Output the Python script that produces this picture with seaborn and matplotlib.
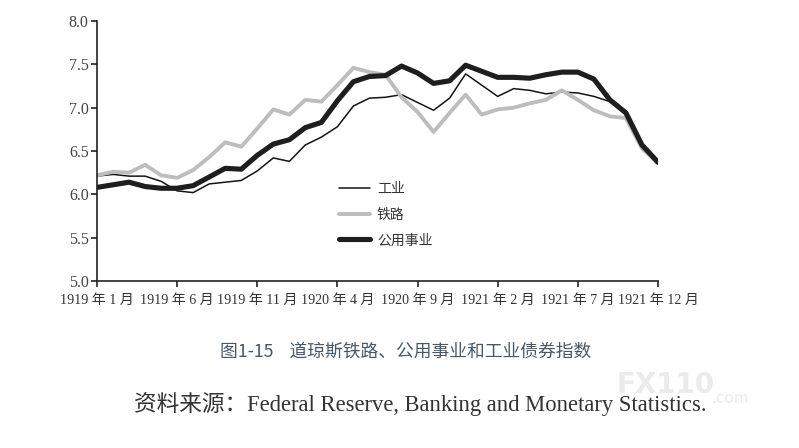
import numpy as np
import pandas as pd
import seaborn as sns
from matplotlib import pyplot as plt

# monthly index values, 1919-01 .. 1921-12
months = pd.period_range('1919-01', '1921-12', freq='M')
industrial = [6.21, 6.23, 6.21, 6.21, 6.15, 6.04, 6.02, 6.12, 6.14, 6.16,
              6.27, 6.42, 6.38, 6.57, 6.66, 6.78, 7.02, 7.11, 7.12, 7.15,
              7.06, 6.97, 7.11, 7.39, 7.26, 7.13, 7.22, 7.20, 7.16, 7.18,
              7.17, 7.13, 7.07, 6.94, 6.55, 6.37]
railroad = [6.22, 6.26, 6.25, 6.34, 6.22, 6.19, 6.28, 6.43, 6.60, 6.55,
            6.76, 6.98, 6.92, 7.09, 7.07, 7.26, 7.46, 7.41, 7.38, 7.12,
            6.95, 6.72, 6.94, 7.15, 6.92, 6.98, 7.00, 7.05, 7.09, 7.20,
            7.09, 6.97, 6.90, 6.88, 6.53, 6.36]
utilities = [6.08, 6.11, 6.14, 6.09, 6.07, 6.07, 6.10, 6.20, 6.30, 6.29,
             6.45, 6.58, 6.63, 6.77, 6.83, 7.08, 7.30, 7.36, 7.37, 7.48,
             7.40, 7.28, 7.31, 7.49, 7.42, 7.35, 7.35, 7.34, 7.38, 7.41,
             7.41, 7.33, 7.09, 6.94, 6.57, 6.37]
series_names = ['工业', '铁路', '公用事业']
tick_months = [0, 5, 10, 15, 20, 25, 30, 35]
tick_labels = [f'{m.year} 年 {m.month} 月' for m in months[tick_months]]

df = pd.DataFrame({'t': np.arange(len(months)),
                   '工业': industrial, '铁路': railroad, '公用事业': utilities})
df = df.melt(id_vars='t', var_name='series', value_name='value')

sns.set_style('white')
plt.rcParams['font.family'] = ['Liberation Serif', 'Noto Sans CJK SC', 'DejaVu Sans']

fig = plt.figure(figsize=(7.99, 4.48), dpi=100)
ax = fig.add_axes([0.1214, 0.3728, 0.7021, 0.5803])

styles = {'工业': ('#141414', 1.1), '铁路': ('#bdbdbd', 2.8), '公用事业': ('#1e1e1e', 3.7)}
for name in series_names:
    color, lw = styles[name]
    sns.lineplot(data=df[df['series'] == name], x='t', y='value', ax=ax,
                 color=color, linewidth=lw, label=name)

ax.set_xlim(0, 35)
ax.set_ylim(5.0, 8.0)
ax.set_xticks(tick_months)
ax.set_xticklabels(tick_labels, fontsize=10.1, color='#333333')
ax.set_yticks(np.arange(5.0, 8.01, 0.5))
ax.set_yticklabels([f'{v:.1f}' for v in np.arange(5.0, 8.01, 0.5)], fontsize=11.5, color='#444444')
ax.set_xlabel('')
ax.set_ylabel('')
for s in ['top', 'right']:
    ax.spines[s].set_visible(False)
for s in ['left', 'bottom']:
    ax.spines[s].set_color('#222222')
    ax.spines[s].set_linewidth(1.2)
ax.tick_params(axis='both', direction='out', length=4, width=1.2, color='#222222',
               left=True, bottom=True)
ax.tick_params(axis='x', pad=5)
ax.tick_params(axis='y', pad=2)

leg = ax.legend(loc='upper left', bbox_to_anchor=(0.41, 0.43), frameon=False,
                handlelength=2.2, handletextpad=0.5, labelspacing=0.85,
                prop={'family': ['Noto Sans CJK SC'], 'size': 10})
for t in leg.get_texts():
    t.set_color('#333333')

fig.text(0.508, 0.216, '图1-15    道琼斯铁路、公用事业和工业债券指数', ha='center', va='center',
         fontsize=12.8, color='#4a5866', family=['Noto Sans CJK SC'])
fig.text(0.168, 0.098, '资料来源：Federal Reserve, Banking and Monetary Statistics.',
         ha='left', va='center', fontsize=16.3, color='#333333')
# faint watermark
fig.text(0.772, 0.14, 'FX110', ha='left', va='center', fontsize=20, fontweight='bold',
         color='#ebebeb', family=['DejaVu Sans'], zorder=0)
fig.text(0.89, 0.11, '.com', ha='left', va='center', fontsize=11,
         color='#ebebeb', family=['DejaVu Sans'], zorder=0)

fig.savefig('out.png', dpi=100)
